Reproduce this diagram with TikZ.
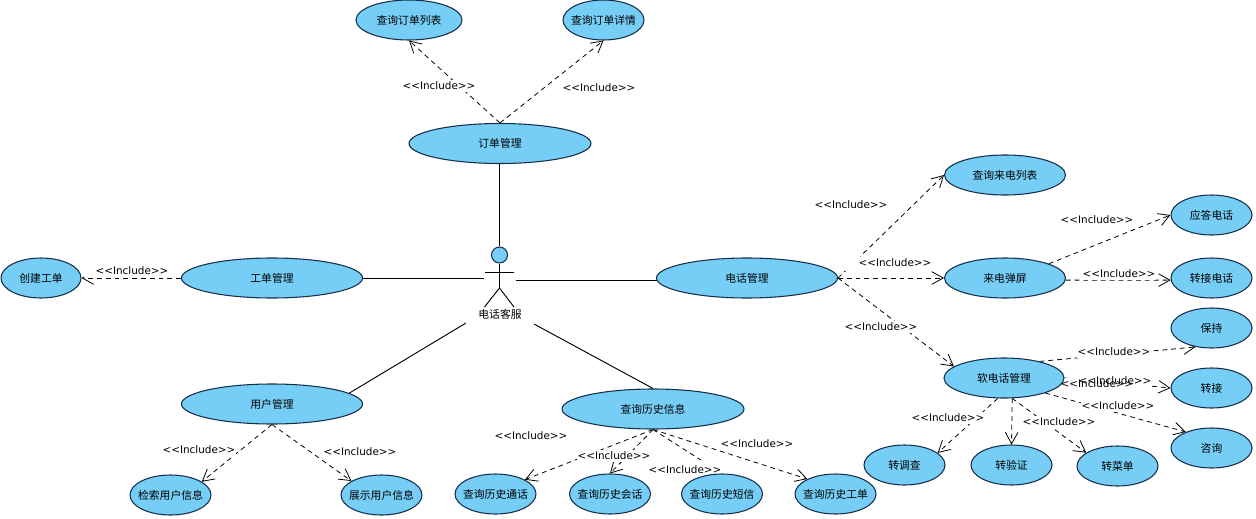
\documentclass[tikz,border=0pt]{standalone}
\usepackage{fontspec}
\setmainfont{Noto Sans CJK SC}
\newfontfamily\latinlabel{DejaVu Sans}
\usetikzlibrary{arrows.meta,shapes.geometric}
\pgfdeclarelayer{edges}
\pgfsetlayers{edges,main}
\definecolor{ucfill}{HTML}{76CEF6}
\definecolor{ucline}{HTML}{16304A}
\tikzset{
  uc/.style={ellipse,draw=ucline,fill=ucfill,line width=0.8pt,inner sep=0pt,minimum height=30pt,font=\fontsize{8.1}{10}\selectfont,text=black},
  solidlink/.style={draw=black,line width=0.7pt},
  inc/.style={draw=black,line width=0.6pt,dash pattern=on 3.6pt off 3pt,-{Straight Barb[length=8.5pt,width=9.5pt,line width=0.6pt]}},
  inclabel/.style={font=\latinlabel\fontsize{7.8}{9}\selectfont,inner sep=0pt,text=black},
  actorline/.style={draw=black,line width=0.7pt},
}
\newcommand{\ucnode}[5]{\node[uc,minimum width=#4*0.75pt] (#1) at (#2,#3) {\makebox[0pt]{#5}};}
\begin{document}
\begin{tikzpicture}[x=0.75pt,y=-0.75pt]
\useasboundingbox (0,0) rectangle (1256,518);
\ucnode{olist}{409}{20}{106}{查询订单列表}
\ucnode{odetail}{603.5}{20}{81}{查询订单详情}
\ucnode{order}{500}{143.5}{182}{订单管理}
\ucnode{inlist}{1005}{175}{121}{查询来电列表}
\ucnode{answer}{1211.5}{215}{81}{应答电话}
\ucnode{popup}{1005}{278}{121}{来电弹屏}
\ucnode{transfercall}{1211.5}{278}{81}{转接电话}
\ucnode{phone}{747}{278}{181}{电话管理}
\ucnode{ticket}{272}{278}{181}{工单管理}
\ucnode{create}{41}{278}{80}{创建工单}
\ucnode{user}{272}{404}{181}{用户管理}
\ucnode{history}{653}{409}{182}{查询历史信息}
\ucnode{search}{170.5}{495}{81}{检索用户信息}
\ucnode{show}{381.5}{495}{81}{展示用户信息}
\ucnode{hcall}{495.5}{494}{81}{查询历史通话}
\ucnode{hchat}{610}{494}{81}{查询历史会话}
\ucnode{hsms}{722}{494}{81}{查询历史短信}
\ucnode{hticket}{835.5}{494}{81}{查询历史工单}
\ucnode{soft}{1004}{378}{120}{软电话管理}
\ucnode{hold}{1211.5}{328}{81}{保持}
\ucnode{transfer}{1211.5}{388}{81}{转接}
\ucnode{consult}{1211.5}{448}{81}{咨询}
\ucnode{survey}{904.5}{465}{81}{转调查}
\ucnode{verify}{1011.5}{465}{81}{转验证}
\ucnode{menu}{1117.5}{466}{81}{转菜单}
% actor
\node[circle,draw=ucline,fill=ucfill,line width=0.8pt,inner sep=0pt,minimum size=12pt] (head) at (499.5,255) {};
\coordinate (hip) at (499.5,288);
\coordinate (armL) at (485,272);
\coordinate (armR) at (514,272);
\coordinate (legL) at (484.5,307);
\coordinate (legR) at (514,307);
\draw[actorline] (head.south) -- (hip);
\draw[actorline] (armL) -- (armR);
\draw[actorline] (legL) -- (hip) -- (legR);
\node[font=\fontsize{8.1}{10}\selectfont,inner sep=0pt] (actor) at (500,314) {电话客服};
\coordinate (aL) at (484,278);
\coordinate (aR) at (515.5,280.5);
\coordinate (aBL) at (466,323);
\coordinate (aBR) at (534,324);
\coordinate (phoneL) at (656.5,280.5);
\coordinate (orderB) at (499.5,164);
\draw[solidlink] (orderB) -- (head.north);
\draw[solidlink] (ticket.east) -- (aL);
\draw[solidlink] (aR) -- (phoneL);
\draw[solidlink] (user.8) -- (aBL);
\draw[solidlink] (history.north) -- (aBR);
\begin{pgfonlayer}{edges}
\draw[inc] (order.north) -- (olist.south);
\draw[inc] (order.north) -- (odetail.south);
\draw[inc] (ticket.west) -- (create.east);
\draw[inc] (phone.east) -- (inlist.west);
\draw[inc] (phone.east) -- (popup.west);
\draw[inc] (phone.east) -- (soft.167);
\draw[inc] (popup.18) -- (answer.west);
\draw[inc] (popup.-2) -- (transfercall.183);
\draw[inc] (soft.25) -- (hold.230);
\draw[inc] (soft.east) -- (transfer.west);
\draw[inc] (soft.-20) -- (consult.148);
\draw[inc] (soft.-107) -- (survey.20);
\draw[inc] (soft.-68) -- (verify.north);
\draw[inc] (soft.-68) -- (menu.157);
\draw[inc] (user.south) -- (search.23);
\draw[inc] (user.south) -- (show.155);
\draw[inc] (history.south) -- (hcall.26);
\draw[inc] (history.south) -- (hchat.north);
\draw[inc] (history.south) -- (hsms.north);
\draw[inc] (history.south) -- (hticket.152);
\foreach \lx/\ly in {439/86,599/88,132/271,851/205,895/263,881/327,1097/220,1119/274,1114/352,1115/381,1097/384,1118/406,948/418,1059/422,199/450,360/452,531/436,614/456,685/470,757/444}{
  \fill[white] (\lx-37,\ly-6) rectangle (\lx+37,\ly+6);
}
% wider clearings that the reference's labels leave round their connectors
\fill[white] (84,262) rectangle (97,276.5);
\fill[white] (845,256) rectangle (860,271);
\fill[white] (648,460) rectangle (726,476);
\end{pgfonlayer}
\foreach \lx/\ly [count=\li] in {439/86,599/88,132/271,851/205,895/263,881/327,1097/220,1119/274,1114/352,1115/381,1097/384,1118/406,948/418,1059/422,199/450,360/452,531/436,614/456,685/470,757/444}{
  \node[inclabel] (lab\li) at (\lx,\ly) {<<Include>>};
}
\end{tikzpicture}
\end{document}
